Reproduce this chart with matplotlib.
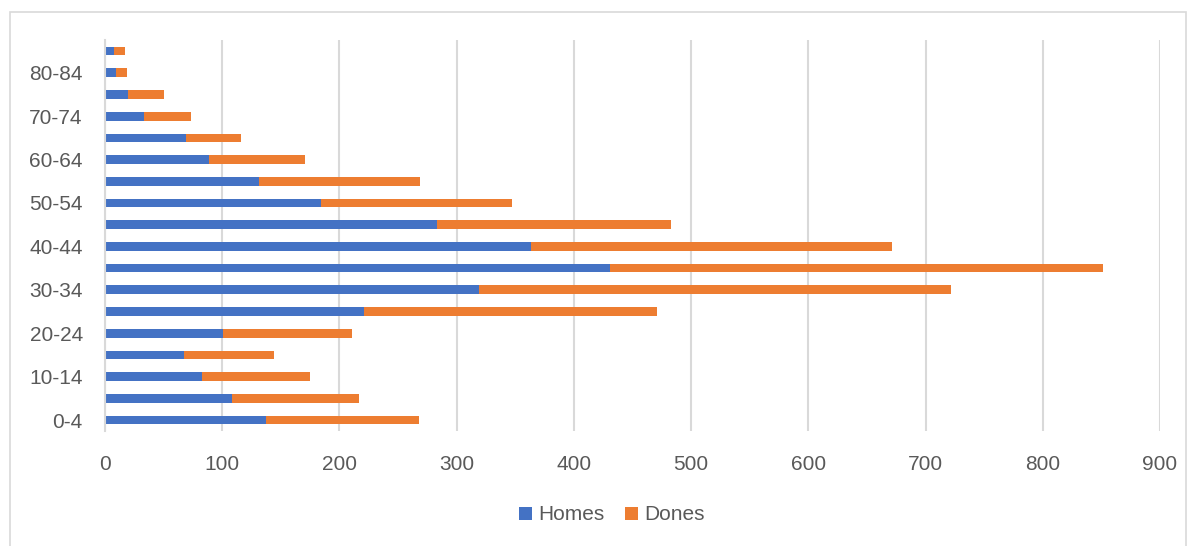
import matplotlib.pyplot as plt
from matplotlib.patches import Rectangle
import numpy as np

plt.rcParams['font.family'] = ['Liberation Sans', 'DejaVu Sans']

# age groups, bottom to top
groups = ['0-4', '5-9', '10-14', '15-19', '20-24', '25-29', '30-34', '35-39',
          '40-44', '45-49', '50-54', '55-59', '60-64', '65-69', '70-74',
          '75-79', '80-84', '85+']
homes = [137, 108, 83, 67, 101, 221, 319, 431, 363, 283, 184, 131, 89, 69, 33, 20, 9, 8]
dones = [131, 109, 92, 77, 110, 250, 403, 420, 308, 200, 163, 138, 82, 47, 40, 30, 10, 9]

blue = '#4472C4'
orange = '#ED7D31'
grid_c = '#D9D9D9'
text_c = '#595959'

fig = plt.figure(figsize=(11.94, 5.46), dpi=100)
ax = fig.add_axes([105/1194, 1-430.9/546, 1055/1194, 390.7/546])

y = np.arange(len(groups))
ax.barh(y, homes, height=0.4, color=blue, label='Homes', zorder=3)
ax.barh(y, dones, left=homes, height=0.4, color=orange, label='Dones', zorder=3)

ax.set_xlim(0, 900)
ax.set_ylim(-0.5, len(groups)-0.5)
ax.set_xticks(np.arange(0, 901, 100))
ax.set_yticks(y[::2])
ax.set_yticklabels(groups[::2])
ax.tick_params(axis='both', length=0, labelsize=15, colors=text_c)
ax.tick_params(axis='x', pad=17)
ax.tick_params(axis='y', pad=16)
ax.xaxis.grid(True, color=grid_c, linewidth=1.5, zorder=0)
for s in ['top', 'right', 'bottom']:
    ax.spines[s].set_visible(False)
ax.spines['left'].set_color(grid_c)
ax.spines['left'].set_linewidth(1.5)
ax.spines['left'].set_zorder(4)

fig.legend(loc='center', bbox_to_anchor=(612/1194, 1-515/546), ncol=2,
           frameon=False, fontsize=15, handlelength=0.6, handleheight=0.6,
           handletextpad=0.3, columnspacing=1.0, labelcolor=text_c)

# outer chart border
fig.patches.append(Rectangle((10/1194, -0.02), 1176/1194, 1.02-12/546,
                             transform=fig.transFigure, fill=False,
                             edgecolor=grid_c, linewidth=1.2))

fig.savefig('out.png', dpi=100)
